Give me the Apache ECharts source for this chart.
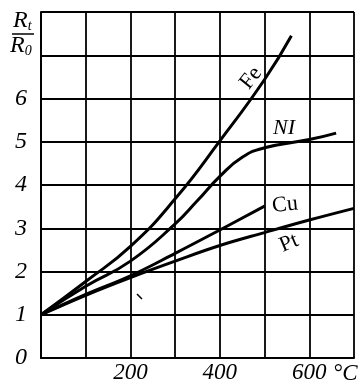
<!DOCTYPE html>
<html><head><meta charset="utf-8">
<script src="https://cdn.jsdelivr.net/npm/echarts@6/dist/echarts.min.js"></script>
<style>html,body{margin:0;padding:0;background:#fff}#c{width:362px;height:384px}</style>
</head><body><div id="c"></div>
<script>
var xTickLabels = {200:'200',400:'400',600:'600'};
var yTickLabels = ['0','1','2','3','4','5','6'];
var feX = [0,100,200,300,400,500,560];
var feY = [1,1.77,2.58,3.68,5.02,6.44,7.45];
var niX = [0,100,200,300,350,400,450,500,600,660];
var niY = [1,1.66,2.24,3.1,3.64,4.2,4.64,4.86,5.05,5.2];
var cuX = [0,100,200,300,400,500];
var cuY = [1,1.47,1.9,2.42,2.96,3.51];
var ptX = [0,100,200,300,400,500,600,700];
var ptY = [1,1.45,1.86,2.24,2.6,2.9,3.19,3.46];
function pairs(xs, ys){ return xs.map(function(x,i){return [x, ys[i]];}); }
var FONT = '"Liberation Serif", "DejaVu Serif", serif';
var chart = echarts.init(document.getElementById('c'));
var lineStyle = {color:'#000', width:3};
function ser(name, xs, ys, s){
  return {name:name, type:'line', data:pairs(xs,ys), smooth:s, showSymbol:false, lineStyle:lineStyle, silent:true};
}
chart.setOption({
  animation:false,
  backgroundColor:'#fff',
  grid:{left:41, right:8, top:12, bottom:23},
  xAxis:{type:'value', min:0, max:700, interval:100,
    axisLine:{show:true, lineStyle:{color:'#000', width:2}},
    axisTick:{show:false},
    splitLine:{show:true, lineStyle:{color:'#000', width:1.8}},
    axisLabel:{fontFamily:FONT, fontStyle:'italic', fontSize:23, color:'#000', margin:3,
      formatter:function(v){ return xTickLabels[v] || ''; }}
  },
  yAxis:{type:'value', min:0, max:8, interval:1,
    axisLine:{show:true, lineStyle:{color:'#000', width:2}},
    axisTick:{show:false},
    splitLine:{show:true, lineStyle:{color:'#000', width:1.8}},
    axisLabel:{fontFamily:FONT, fontStyle:'italic', fontSize:24, color:'#000', margin:14,
      formatter:function(v){ return yTickLabels[v] !== undefined ? yTickLabels[v] : ''; }}
  },
  series:[ser('Fe',feX,feY,0.5), ser('Ni',niX,niY,0.5), ser('Cu',cuX,cuY,0.4), ser('Pt',ptX,ptY,0.4)],
  graphic:[
    {type:'text', left:13, top:9, style:{text:'{a|R}{b|t}', rich:{a:{fontFamily:FONT, fontStyle:'italic', fontSize:24, fill:'#000'}, b:{fontFamily:FONT, fontStyle:'italic', fontSize:14, fill:'#000', padding:[10,0,0,0]}}}},
    {type:'line', shape:{x1:12, y1:34, x2:34, y2:34}, style:{stroke:'#000', lineWidth:1.5}},
    {type:'text', left:10, top:34, style:{text:'{a|R}{b|0}', rich:{a:{fontFamily:FONT, fontStyle:'italic', fontSize:24, fill:'#000'}, b:{fontFamily:FONT, fontStyle:'italic', fontSize:14, fill:'#000', padding:[10,0,0,0]}}}},
    {type:'text', x:333, y:362, style:{text:'°C', fontFamily:FONT, fontStyle:'italic', fontSize:23, fill:'#000'}},
    {type:'text', x:251, y:78, rotation:0.9, style:{text:'Fe', fontFamily:FONT, fontSize:22, fill:'#000', align:'center', verticalAlign:'middle'}},
    {type:'text', x:284, y:128, style:{text:'NI', fontFamily:FONT, fontStyle:'italic', fontSize:22, fill:'#000', align:'center', verticalAlign:'middle'}},
    {type:'text', x:285, y:205, rotation:0.1, style:{text:'Cu', fontFamily:FONT, fontSize:22, fill:'#000', align:'center', verticalAlign:'middle'}},
    {type:'text', x:289, y:243, rotation:0.4, style:{text:'Pt', fontFamily:FONT, fontSize:22, fill:'#000', align:'center', verticalAlign:'middle'}},
    {type:'line', shape:{x1:137, y1:294, x2:142, y2:299}, style:{stroke:'#000', lineWidth:1.5}}
  ]
});
</script></body></html>
